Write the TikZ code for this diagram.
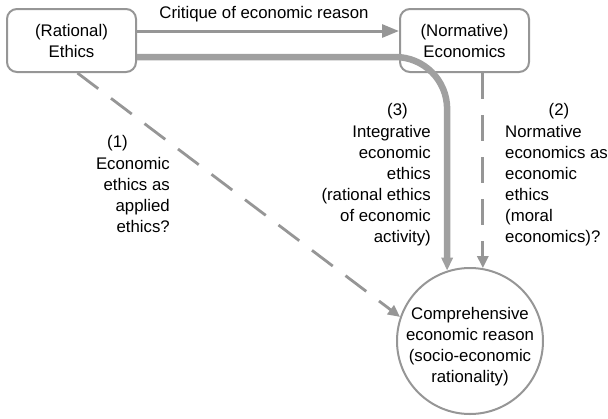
\documentclass[tikz,border=0pt]{standalone}
\usepackage{fontspec}
\setmainfont{Liberation Sans}
\usetikzlibrary{arrows.meta}
\definecolor{linegray}{RGB}{150,150,150}
\definecolor{thickgray}{RGB}{160,160,160}

\begin{document}
\begin{tikzpicture}[x=1pt,y=-1pt,
  font=\fontsize{16.8}{21}\selectfont,
  box/.style={draw=linegray, line width=2pt, rounded corners=10pt,
    minimum width=129pt, minimum height=63pt, align=center, inner sep=0pt},
  goal/.style={circle, draw=linegray, line width=2pt, minimum size=146pt,
    inner sep=0pt},
  solid arrow/.style={draw=linegray, line width=3pt,
    -{Triangle[length=17pt,width=13pt]}},
  main arrow/.style={draw=thickgray, line width=6.5pt, rounded corners=52pt,
    -{Triangle[length=13pt,width=11pt]}},
  dash arrow/.style={draw=linegray, line width=2.8pt, dash pattern=on 26pt off 16pt,
    -{Triangle[length=12pt,width=11pt]}},
  txt/.style={inner sep=0pt}]
\useasboundingbox (0,0) rectangle (608,418);

% the two disciplines and the common goal
\node[box] (eth) at (71.5,40.5) {(Rational)\\Ethics};
\node[box] (eco) at (464.5,40.5) {(Normative)\\Economics};
\node[goal] (cer) at (470,341) {};
\node[txt, anchor=base, align=center] (cert) at (470,382)
  {Comprehensive\\economic reason\\(socio-economic\\rationality)};

% connectors
\draw[solid arrow] ([yshift=9.5pt]eth.east) -- ([yshift=9.5pt]eco.west);
\draw[main arrow] ([yshift=-16.5pt]eth.east) -| (cer.108);
\draw[dash arrow] (eco.south -| cer.80) -- (cer.80);
\draw[dash arrow] ([xshift=6pt]eth.south) -- (cer.161);

% labels (base anchor of a multi-line node = baseline of its last line)
\node[txt, anchor=base] (crit) at (264,18) {Critique of economic reason};

\node[txt, anchor=base] (n1) at (117.5,147) {(1)};
\node[txt, anchor=base east, align=right] (t1) at (170,232)
  {Economic\\ethics as\\applied\\ethics?};

\node[txt, anchor=base] (n3) at (397.5,115) {(3)};
\node[txt, anchor=base east, align=right] (t3) at (431,242)
  {Integrative\\economic\\ethics\\(rational ethics\\of economic\\activity)};

\node[txt, anchor=base] (n2) at (559,115) {(2)};
\node[txt, anchor=base west, align=left] (t2) at (505,242)
  {Normative\\economics as\\economic\\ethics\\(moral\\economics)?};
\end{tikzpicture}
\end{document}
